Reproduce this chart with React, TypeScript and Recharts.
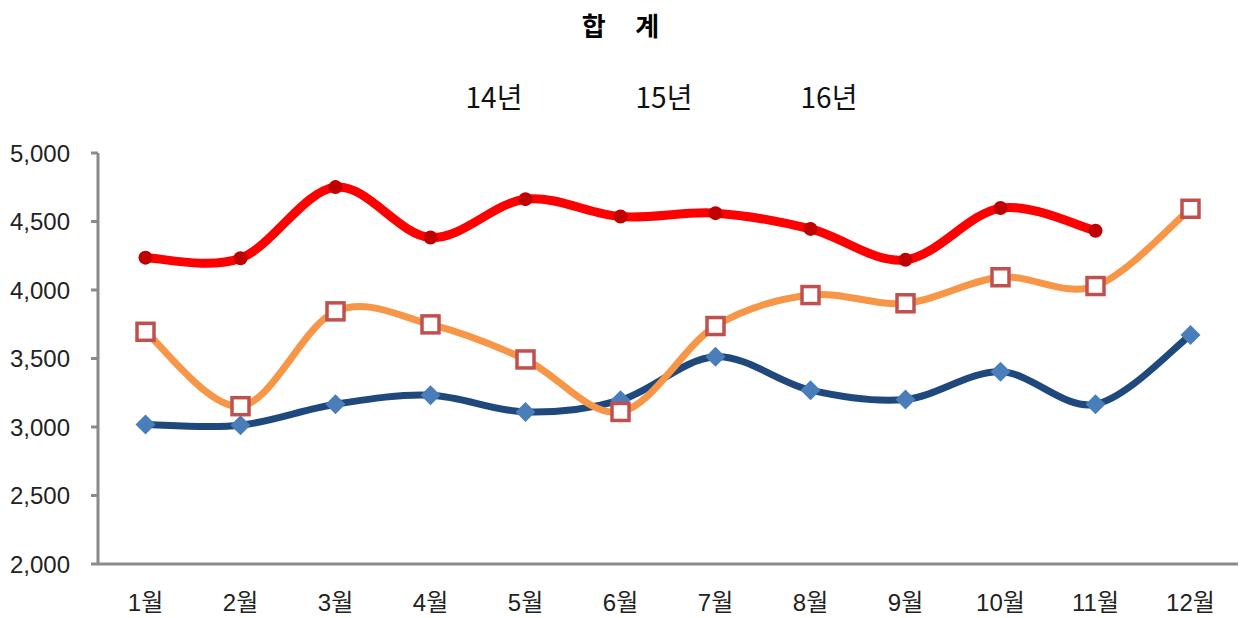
import { Legend, Line, LineChart, XAxis, YAxis } from 'recharts'

const months = ['1월', '2월', '3월', '4월', '5월', '6월', '7월', '8월', '9월', '10월', '11월', '12월']
const seriesNames = ['14년', '15년', '16년']
const y14 = [3018, 3013, 3166, 3232, 3110, 3196, 3512, 3269, 3201, 3403, 3166, 3671]
const y15 = [3695, 3152, 3844, 3749, 3493, 3110, 3737, 3963, 3903, 4093, 4029, 4593]
const y16 = [4236, 4232, 4751, 4383, 4663, 4536, 4561, 4446, 4220, 4598, 4432, null]
const yTicks = [2000, 2500, 3000, 3500, 4000, 4500, 5000]
const monthTicks = months.map((_, i) => i + 1)
const boundaryTicks = [0.5, 1.5, 2.5, 3.5, 4.5, 5.5, 6.5, 7.5, 8.5, 9.5, 10.5, 11.5, 12.5]

const data = months.map((name, i) => ({ m: i + 1, name, a: y14[i], b: y15[i], c: y16[i] }))

const AXIS = '#8a8a8a'
const FONT = '"Liberation Sans", "Noto Sans CJK KR", sans-serif'

// Excel-style smoothed line (cardinal spline through the points)
function excelCurve(ctx: any) {
  let pts: number[][] = []
  const draw = () => {
    if (!pts.length) return
    ctx.moveTo(pts[0][0], pts[0][1])
    if (pts.length === 1) { ctx.lineTo(pts[0][0], pts[0][1]); return }
    for (let i = 0; i < pts.length - 1; i++) {
      const p0 = pts[i - 1] || pts[i]
      const p1 = pts[i]
      const p2 = pts[i + 1]
      const p3 = pts[i + 2] || p2
      ctx.bezierCurveTo(
        p1[0] + (p2[0] - p0[0]) / 6, p1[1] + (p2[1] - p0[1]) / 6,
        p2[0] - (p3[0] - p1[0]) / 6, p2[1] - (p3[1] - p1[1]) / 6,
        p2[0], p2[1],
      )
    }
  }
  return {
    areaStart() {},
    areaEnd() {},
    lineStart() { pts = [] },
    lineEnd() { draw() },
    point(x: number, y: number) { pts.push([+x, +y]) },
  }
}

const Diamond = (p: any) => {
  if (p.value == null) return null
  const { cx, cy } = p
  const r = 10
  return <path key={p.index} d={`M${cx},${cy - r}L${cx + r},${cy}L${cx},${cy + r}L${cx - r},${cy}Z`} fill="#4a7ebb" />
}

const Square = (p: any) => {
  if (p.value == null) return null
  const { cx, cy } = p
  return <rect key={p.index} x={cx - 8.5} y={cy - 8.5} width={17} height={17} fill="#fff" stroke="#c0504d" strokeWidth={3.5} />
}

const Dot = (p: any) => {
  if (p.value == null) return null
  return <circle key={p.index} cx={p.cx} cy={p.cy} r={7} fill="#c00000" />
}

const legendX = [494, 664, 829]

function LegendText() {
  return (
    <div style={{ position: 'relative', height: 40, width: 1241 }}>
      {seriesNames.map((n, i) => (
        <span
          key={n}
          style={{
            position: 'absolute', left: legendX[i], transform: 'translateX(-50%)', top: -4,
            fontFamily: '"Noto Sans CJK KR", sans-serif', fontSize: 28, color: '#111', whiteSpace: 'nowrap',
          }}
        >
          {n}
        </span>
      ))}
    </div>
  )
}

export default function App() {
  return (
    <div style={{ position: 'absolute', left: 0, top: 0, width: 1241, height: 618, background: '#fff' }}>
      <div
        style={{
          position: 'absolute', left: 0, top: 6, width: 1241, textAlign: 'center',
          fontFamily: '"Noto Sans CJK KR", sans-serif', fontWeight: 700, fontSize: 26, whiteSpace: 'pre', color: '#000',
        }}
      >
        {'합     계'}
      </div>
      <LineChart width={1241} height={618} data={data} margin={{ top: 113, right: 3, bottom: 0, left: 0 }}>
        <Legend verticalAlign="top" height={40} wrapperStyle={{ top: 80, left: 0 }} content={() => <LegendText />} />
        <XAxis
          xAxisId="grid"
          type="number"
          dataKey="m"
          domain={[0.5, 12.5]}
          ticks={boundaryTicks}
          tick={false}
          height={1}
          tickSize={6}
          stroke={AXIS}
          strokeWidth={3}
          allowDataOverflow
        />
        <XAxis
          xAxisId="lab"
          type="number"
          dataKey="m"
          domain={[0.5, 12.5]}
          ticks={monthTicks}
          tickFormatter={(v: number) => months[v - 1]}
          axisLine={false}
          tickLine={false}
          tickSize={0}
          tickMargin={29}
          height={53}
          tick={{ fill: '#222', fontSize: 24, fontFamily: FONT }}
          interval={0}
        />
        <YAxis
          domain={[2000, 5000]}
          ticks={yTicks}
          tickFormatter={(v: number) => v.toLocaleString('en-US')}
          width={98}
          stroke={AXIS}
          strokeWidth={3}
          tickSize={7}
          tickMargin={21}
          tick={{ fill: '#222', fontSize: 24, fontFamily: FONT }}
          interval={0}
        />
        <Line xAxisId="grid" dataKey="a" name={seriesNames[0]} type={excelCurve as any} stroke="#1f497d" strokeWidth={7} dot={Diamond} isAnimationActive={false} />
        <Line xAxisId="grid" dataKey="b" name={seriesNames[1]} type={excelCurve as any} stroke="#f79646" strokeWidth={7} dot={Square} isAnimationActive={false} />
        <Line xAxisId="grid" dataKey="c" name={seriesNames[2]} type={excelCurve as any} stroke="#ff0000" strokeWidth={9} dot={Dot} isAnimationActive={false} />
      </LineChart>
    </div>
  )
}
